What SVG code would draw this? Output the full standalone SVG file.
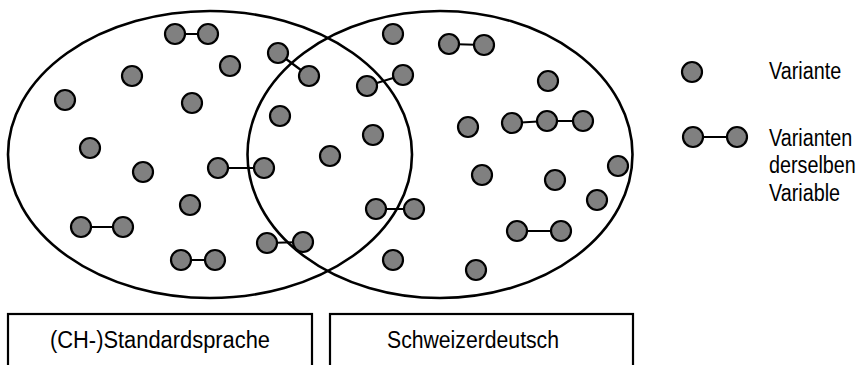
<svg xmlns="http://www.w3.org/2000/svg" width="868" height="365" viewBox="0 0 868 365">
  <style>
    .set { fill: none; stroke: #000; stroke-width: 2.6; }
    .box { fill: #fff; stroke: #000; stroke-width: 2.2; }
    .v { fill: #808080; stroke: #000; stroke-width: 2.2; }
    .link { stroke: #000; stroke-width: 2.2; fill: none; }
    .lbl { font-family: "Liberation Sans", Arial, sans-serif; font-size: 23px; fill: #000; }
  </style>

  <rect width="868" height="365" fill="#fff"/>

  <!-- the two overlapping sets -->
  <g id="sets">
    <ellipse id="set-standard" class="set" cx="210" cy="154.5" rx="202" ry="143.5"/>
    <ellipse id="set-dialect" class="set" cx="440" cy="154.5" rx="192.5" ry="143.5"/>
  </g>

  <!-- lines joining variants of the same variable -->
  <g id="connectors">
    <line class="link" x1="175" y1="34" x2="208" y2="34"/>
    <line class="link" x1="278" y1="53" x2="309" y2="76"/>
    <line class="link" x1="218" y1="168" x2="264" y2="168"/>
    <line class="link" x1="81" y1="227" x2="123" y2="227"/>
    <line class="link" x1="181" y1="260" x2="215" y2="260"/>
    <line class="link" x1="267" y1="243" x2="303" y2="242"/>
    <line class="link" x1="449" y1="44" x2="484" y2="45"/>
    <line class="link" x1="367" y1="86" x2="403" y2="75"/>
    <line class="link" x1="512" y1="123" x2="547" y2="121"/>
    <line class="link" x1="547" y1="121" x2="583" y2="121"/>
    <line class="link" x1="376" y1="209" x2="414" y2="209"/>
    <line class="link" x1="517" y1="231" x2="561" y2="231"/>
    <line class="link" x1="693" y1="137" x2="737" y2="137"/>
  </g>

  <!-- variants -->
  <g id="variants">
    <g id="v1"><circle class="v" cx="175" cy="34" r="10"/></g>
    <g id="v2"><circle class="v" cx="208" cy="34" r="10"/></g>
    <g id="v3"><circle class="v" cx="278" cy="53" r="10"/></g>
    <g id="v4"><circle class="v" cx="309" cy="76" r="10"/></g>
    <g id="v5"><circle class="v" cx="230" cy="66" r="10"/></g>
    <g id="v6"><circle class="v" cx="132" cy="76" r="10"/></g>
    <g id="v7"><circle class="v" cx="65" cy="100" r="10"/></g>
    <g id="v8"><circle class="v" cx="192" cy="103" r="10"/></g>
    <g id="v9"><circle class="v" cx="280" cy="116" r="10"/></g>
    <g id="v10"><circle class="v" cx="90" cy="148" r="10"/></g>
    <g id="v11"><circle class="v" cx="143" cy="172" r="10"/></g>
    <g id="v12"><circle class="v" cx="218" cy="168" r="10"/></g>
    <g id="v13"><circle class="v" cx="264" cy="168" r="10"/></g>
    <g id="v14"><circle class="v" cx="190" cy="205" r="10"/></g>
    <g id="v15"><circle class="v" cx="81" cy="227" r="10"/></g>
    <g id="v16"><circle class="v" cx="123" cy="227" r="10"/></g>
    <g id="v17"><circle class="v" cx="181" cy="260" r="10"/></g>
    <g id="v18"><circle class="v" cx="215" cy="260" r="10"/></g>
    <g id="v19"><circle class="v" cx="267" cy="243" r="10"/></g>
    <g id="v20"><circle class="v" cx="303" cy="242" r="10"/></g>
    <g id="v21"><circle class="v" cx="330" cy="156" r="10"/></g>
    <g id="v22"><circle class="v" cx="393" cy="34" r="10"/></g>
    <g id="v23"><circle class="v" cx="449" cy="44" r="10"/></g>
    <g id="v24"><circle class="v" cx="484" cy="45" r="10"/></g>
    <g id="v25"><circle class="v" cx="367" cy="86" r="10"/></g>
    <g id="v26"><circle class="v" cx="403" cy="75" r="10"/></g>
    <g id="v27"><circle class="v" cx="548" cy="81" r="10"/></g>
    <g id="v28"><circle class="v" cx="373" cy="135" r="10"/></g>
    <g id="v29"><circle class="v" cx="468" cy="127" r="10"/></g>
    <g id="v30"><circle class="v" cx="512" cy="123" r="10"/></g>
    <g id="v31"><circle class="v" cx="547" cy="121" r="10"/></g>
    <g id="v32"><circle class="v" cx="583" cy="121" r="10"/></g>
    <g id="v33"><circle class="v" cx="482" cy="175" r="10"/></g>
    <g id="v34"><circle class="v" cx="555" cy="180" r="10"/></g>
    <g id="v35"><circle class="v" cx="618" cy="166" r="10"/></g>
    <g id="v36"><circle class="v" cx="597" cy="200" r="10"/></g>
    <g id="v37"><circle class="v" cx="376" cy="209" r="10"/></g>
    <g id="v38"><circle class="v" cx="414" cy="209" r="10"/></g>
    <g id="v39"><circle class="v" cx="517" cy="231" r="10"/></g>
    <g id="v40"><circle class="v" cx="561" cy="231" r="10"/></g>
    <g id="v41"><circle class="v" cx="393" cy="260" r="10"/></g>
    <g id="v42"><circle class="v" cx="476" cy="270" r="10"/></g>
  </g>

  <!-- legend (narrowed type) -->
  <g id="legend-variant">
    <circle class="v" cx="692" cy="72" r="10"/>
    <g transform="translate(769 0) scale(0.86 1)">
      <text class="lbl" x="0" y="79">Variante</text>
    </g>
  </g>
  <g id="legend-variable">
    <circle class="v" cx="693" cy="137" r="10"/>
    <circle class="v" cx="737" cy="137" r="10"/>
    <g transform="translate(769 0) scale(0.86 1)">
      <text class="lbl" x="0" y="146">Varianten</text>
      <text class="lbl" x="0" y="173.5">derselben</text>
      <text class="lbl" x="0" y="201">Variable</text>
    </g>
  </g>

  <!-- set captions -->
  <g id="caption-standard">
    <rect class="box" x="8" y="314" width="304" height="60"/>
    <text class="lbl" x="160" y="348" text-anchor="middle" textLength="220" lengthAdjust="spacingAndGlyphs">(CH-)Standardsprache</text>
  </g>
  <g id="caption-dialect">
    <rect class="box" x="330" y="314" width="303" height="60"/>
    <text class="lbl" x="473" y="348" text-anchor="middle" textLength="172" lengthAdjust="spacingAndGlyphs">Schweizerdeutsch</text>
  </g>
</svg>
